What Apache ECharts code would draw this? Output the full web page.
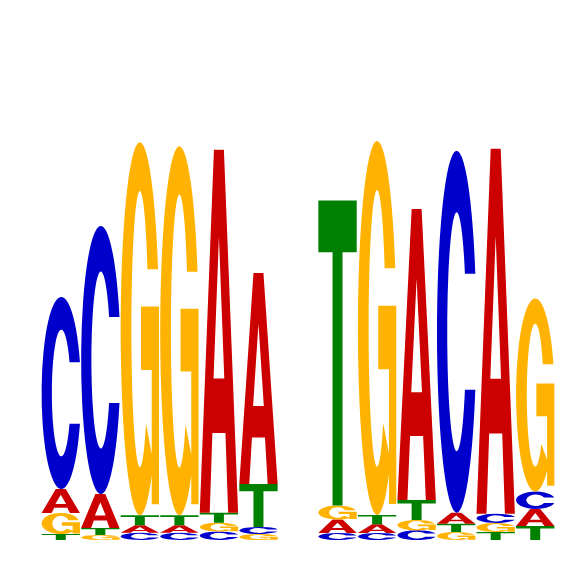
<!DOCTYPE html>
<html>
<head>
<meta charset="utf-8">
<script src="https://cdn.jsdelivr.net/npm/echarts@6/dist/echarts.min.js"></script>
<style>
html, body { margin: 0; padding: 0; background: #fff; }
#logo { width: 566px; height: 566px; }
</style>
</head>
<body>
<div id="logo"></div>
<script>
// positions of the motif, 7 is the empty spacer
let positions = ['1', '2', '3', '4', '5', '6', '7', '8', '9', '10', '11', '12', '13'];

// letter heights in bits
let bitsA = [0.096, 0.136, 0.030, 0.030, 1.452, 0.844, 0, 0.054, 0.035, 1.164, 0.044, 1.460, 0.068];
let bitsC = [0.768, 1.072, 0.029, 0.029, 0.034, 0.028, 0, 0.028, 0.028, 0.039, 1.448, 0.037, 0.070];
let bitsG = [0.084, 0.020, 1.492, 1.476, 0.035, 0.024, 0, 0.056, 1.496, 0.041, 0.032, 0.036, 0.772];
let bitsT = [0.024, 0.028, 0.040, 0.040, 0.040, 0.172, 0, 1.220, 0.037, 0.080, 0.033, 0.032, 0.056];

let letters = ['A', 'C', 'G', 'T'];
let letterColors = ['#cc0000', '#0000cc', '#ffb300', '#008000'];

// glyph outlines in a 100x100 box, stretched to each letter's rect
let glyphs = {
    A: 'M0,100 L37,0 L63,0 L100,100 L74,100 L67,78 L33,78 L26,100 Z M50,24 L36,63 L64,63 Z',
    C: 'M97.4,34 A50,50 0 1 0 97.4,66 L71,66 A24,33 0 1 1 71,34 Z',
    G: 'M97.4,34 A50,50 0 1 0 85,85.7 L66,75.4 A22,37 0 1 1 69.8,34 Z ' +
       'M53,44 L53,61 L100,61 L100,44 Z M81,44 L81,97 L100,97 L100,44 Z',
    T: 'M0,0 L100,0 L100,17 L63,17 L63,100 L37,100 L37,17 L0,17 Z'
};

// stack each column, smallest letter at the bottom
let stacks = [];
for (let i = 0; i < positions.length; i++) {
    let col = [bitsA[i], bitsC[i], bitsG[i], bitsT[i]].map((h, k) => ({ k: k, h: h }));
    col.sort((a, b) => a.h - b.h);
    let y = 0;
    col.forEach(c => {
        if (c.h > 0) {
            stacks.push([i, y, y + c.h, c.k]);
            y += c.h;
        }
    });
}

function renderLetter(params, api) {
    let x = api.value(0);
    let bottom = api.coord([x, api.value(1)]);
    let top = api.coord([x, api.value(2)]);
    let w = api.size([1, 0])[0] * 0.97;
    let k = api.value(3);
    return {
        type: 'path',
        shape: {
            pathData: glyphs[letters[k]],
            x: top[0] - w / 2,
            y: top[1],
            width: w,
            height: bottom[1] - top[1],
            layout: 'cover'
        },
        style: { fill: letterColors[k] }
    };
}

let optionLogo = {
    animation: false,
    grid: { left: 41, right: 11, top: 40, bottom: 26 },
    xAxis: { type: 'category', data: positions, show: false },
    yAxis: { type: 'value', min: 0, max: 2, show: false },
    series: [
        {
            type: 'custom',
            renderItem: renderLetter,
            encode: { x: 0, y: [1, 2] },
            data: stacks
        }
    ]
};

let chartLogo = echarts.init(document.getElementById('logo'));
chartLogo.setOption(optionLogo);
</script>
</body>
</html>
